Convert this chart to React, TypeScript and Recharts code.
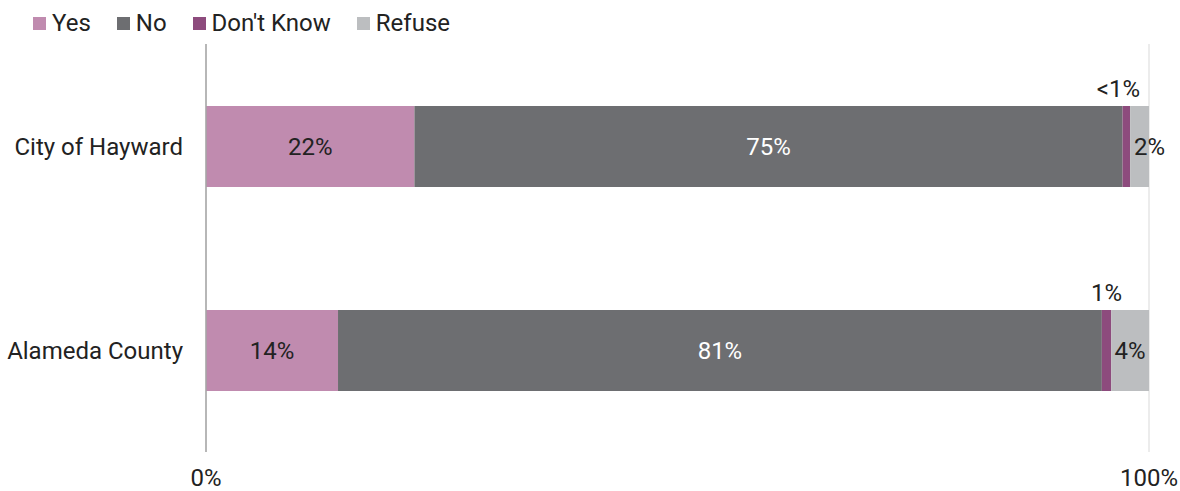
import { BarChart, Bar, XAxis, YAxis, CartesianGrid, LabelList } from "recharts"

const categories = ["City of Hayward", "Alameda County"]
const yes = [22.1, 14.0]
const no = [75.1, 81.0]
const dontKnow = [0.8, 1.0]
const refuse = [2.0, 4.0]
const xTicks = [0, 100]

const series = [
  { key: "yes", name: "Yes", color: "#c08baf" },
  { key: "no", name: "No", color: "#6d6e71" },
  { key: "dk", name: "Don't Know", color: "#8d4b7d" },
  { key: "refuse", name: "Refuse", color: "#bcbec0" },
]

const data = categories.map((c, i) => ({
  name: c,
  yes: yes[i],
  no: no[i],
  dk: dontKnow[i],
  refuse: refuse[i],
}))

const FONT = "Roboto, 'Noto Sans', sans-serif"
const FS = 24

const fmt = (v: number) => (v < 1 ? "<1%" : `${Math.round(v)}%`)

function AboveLabel(props: any) {
  const { x, y, width, value } = props
  const dx = value < 1 ? -8 : 0
  return (
    <text x={x + width / 2 + dx} y={y - 17} textAnchor="middle" dominantBaseline="central"
      fontSize={FS} fill="#222222" fontFamily={FONT}>
      {fmt(value)}
    </text>
  )
}

function SmallLabel(props: any) {
  const { x, y, width, height, value } = props
  const dx = width < 25 ? 10 : 0
  return (
    <text x={x + width / 2 + dx} y={y + height / 2} textAnchor="middle" dominantBaseline="central"
      fontSize={FS} fill="#222222" fontFamily={FONT}>
      {fmt(value)}
    </text>
  )
}

function LegendRow() {
  return (
    <div style={{ position: "absolute", left: 33, top: 8, display: "flex", gap: 26, fontFamily: FONT, fontSize: FS, lineHeight: "30px", color: "#222" }}>
      {series.map(s => (
        <div key={s.key} style={{ display: "flex", alignItems: "center" }}>
          <span style={{ width: 13, height: 13, background: s.color, display: "inline-block", marginRight: 6 }} />
          <span>{s.name}</span>
        </div>
      ))}
    </div>
  )
}

export default function App() {
  return (
    <div style={{ position: "absolute", left: 0, top: 0, width: 1180, height: 491, background: "#fff" }}>
      <LegendRow />
      <BarChart width={1180} height={491} data={data} layout="vertical"
        margin={{ top: 44, right: 31, left: 0, bottom: 0 }} barSize={81}>
        <CartesianGrid horizontal={false} stroke="#d9d9d9" />
        <XAxis type="number" domain={[0, 100]} ticks={xTicks} height={39}
          tickFormatter={v => `${v}%`} axisLine={false} tickLine={false} tickMargin={11}
          tick={{ fontSize: FS, fill: "#222222", fontFamily: FONT }} />
        <YAxis type="category" dataKey="name" width={206} tickLine={false} tickMargin={17}
          axisLine={{ stroke: "#a6a6a6", strokeWidth: 1.5 }}
          tick={{ fontSize: FS, fill: "#222222", fontFamily: FONT }} />
        <Bar dataKey="yes" stackId="a" fill={series[0].color} isAnimationActive={false}>
          <LabelList dataKey="yes" position="center" formatter={(v: any) => fmt(v)}
            style={{ fontSize: FS, fill: "#222222", fontFamily: FONT }} />
        </Bar>
        <Bar dataKey="no" stackId="a" fill={series[1].color} isAnimationActive={false}>
          <LabelList dataKey="no" position="center" formatter={(v: any) => fmt(v)}
            style={{ fontSize: FS, fill: "#ffffff", fontFamily: FONT }} />
        </Bar>
        <Bar dataKey="dk" stackId="a" fill={series[2].color} isAnimationActive={false}>
          <LabelList dataKey="dk" content={<AboveLabel />} />
        </Bar>
        <Bar dataKey="refuse" stackId="a" fill={series[3].color} isAnimationActive={false}>
          <LabelList dataKey="refuse" content={<SmallLabel />} />
        </Bar>
      </BarChart>
    </div>
  )
}
